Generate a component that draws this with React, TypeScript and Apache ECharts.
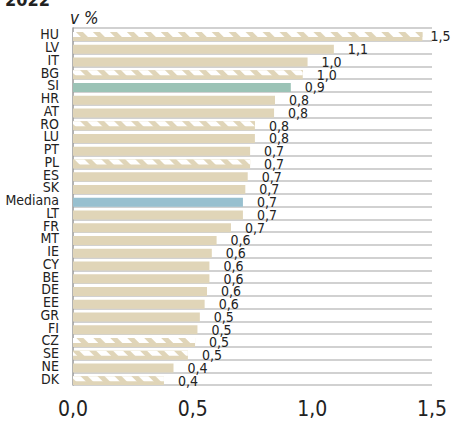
import React, { useEffect, useRef } from "react";
import * as echarts from "echarts";

const categories = ["HU","LV","IT","BG","SI","HR","AT","RO","LU","PT","PL","ES","SK","Mediana","LT","FR","MT","IE","CY","BE","DE","EE","GR","FI","CZ","SE","NE","DK"];
const values = [1.46,1.09,0.98,0.96,0.91,0.844,0.84,0.76,0.76,0.74,0.74,0.73,0.72,0.71,0.71,0.66,0.60,0.58,0.57,0.57,0.56,0.55,0.53,0.52,0.51,0.48,0.42,0.38];
const hatched = ["HU","BG","RO","PL","CZ","SE","DK"];
const highlightGreen = ["SI"];
const highlightBlue = ["Mediana"];
const xTicks = [0, 0.5, 1.0, 1.5];

const BEIGE = "#e0d5b8";
const GREEN = "#9bc3b6";
const BLUE = "#98c0cf";
const FONT = '"Liberation Sans Narrow", "DejaVu Sans Condensed", "Arial Narrow", sans-serif';

const fmt = (v: number) => (Math.round(v * 10) / 10).toFixed(1).replace(".", ",");

export default function App() {
  const ref = useRef<HTMLDivElement>(null);
  useEffect(() => {
    if (!ref.current) return;
    const chart = echarts.init(ref.current, null, { renderer: "svg" });
    const mainData = categories.map((c, i) => {
      let color = BEIGE;
      if (highlightGreen.includes(c)) color = GREEN;
      if (highlightBlue.includes(c)) color = BLUE;
      const item: any = { value: values[i], itemStyle: { color } };
      if (i === 0) item.label = { distance: 8 };
      return item;
    });
    const hatchData = categories.map((c, i) =>
      hatched.includes(c) ? values[i] : "-"
    );
    chart.setOption({
      animation: false,
      grid: { left: 73, right: 21, top: 28, bottom: 36, containLabel: false },
      graphic: [
        {
          type: "text",
          left: 5,
          top: -10,
          style: { text: "2022", font: `bold 18px ${FONT}`, fill: "#222" },
        },
        {
          type: "text",
          left: 70,
          top: 9,
          style: { text: "v %", font: `italic 17px ${FONT}`, fill: "#222" },
        },
      ],
      xAxis: {
        type: "value",
        min: 0,
        max: 1.5,
        interval: 0.5,
        axisLine: { show: false },
        axisTick: { show: false },
        splitLine: { show: false },
        axisLabel: {
          margin: 13,
          fontSize: 21,
          fontFamily: FONT,
          color: "#222",
          formatter: (v: number) => (xTicks.includes(v) ? fmt(v) : ""),
        },
      },
      yAxis: {
        type: "category",
        inverse: true,
        data: categories,
        axisLine: { show: true, lineStyle: { color: "#9a9a9a", width: 1.5 } },
        axisTick: { show: false },
        splitLine: { show: true, lineStyle: { color: "#c2c2c2", width: 1.5 } },
        axisLabel: {
          margin: 14,
          fontSize: 14,
          fontFamily: FONT,
          color: "#222",
          interval: 0,
        },
      },
      series: [
        {
          type: "bar",
          data: mainData,
          barWidth: 9,
          barGap: "-100%",
          label: {
            show: true,
            position: "right",
            distance: 14,
            fontSize: 14,
            fontFamily: FONT,
            color: "#222",
            formatter: (p: any) => fmt(p.value),
          },
        },
        {
          type: "bar",
          data: hatchData,
          barWidth: 5,
          barGap: "-100%",
          silent: true,
          itemStyle: {
            color: BEIGE,
            decal: {
              symbol: "rect",
              symbolSize: 1,
              color: "#ffffff",
              backgroundColor: BEIGE,
              dashArrayX: [7, 4.5],
              dashArrayY: [10, 0],
              rotation: -Math.PI / 4,
            },
          },
        },
      ],
    });
    return () => chart.dispose();
  }, []);
  return <div ref={ref} style={{ width: 453, height: 421, position: "absolute", left: 0, top: 0 }} />;
}
